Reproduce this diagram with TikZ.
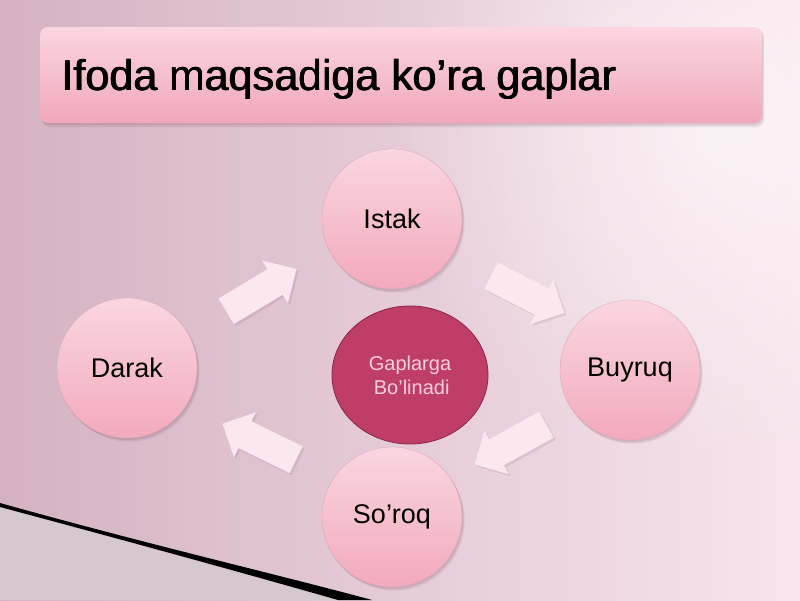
\documentclass[tikz,border=0pt]{standalone}
\usepackage{fontspec}
\setmainfont{Liberation Sans}
\usetikzlibrary{shapes.geometric,shapes.arrows,fadings}
\definecolor{bgL}{RGB}{212,178,195}
\definecolor{bgR}{RGB}{247,228,236}
\definecolor{bgLow}{RGB}{214,200,208}
\definecolor{boxTop}{RGB}{251,214,224}
\definecolor{boxBot}{RGB}{240,168,186}
\definecolor{cirTop}{RGB}{250,214,224}
\definecolor{cirBot}{RGB}{242,170,188}
\definecolor{cirEdge}{RGB}{215,165,182}
\definecolor{cenFill}{RGB}{190,62,104}
\definecolor{cenDraw}{RGB}{140,36,72}
\definecolor{cenText}{RGB}{250,205,222}
\definecolor{arrFill}{RGB}{250,232,238}
\definecolor{shd}{RGB}{110,60,85}
\tikzfading[name=glowfade, inner color=transparent!0, outer color=transparent!100]
\tikzset{
  x=1pt, y=-1pt,
  softshadow/.style={fill=shd, fill opacity=0.12, draw=none},
  topic/.style={circle, minimum size=140pt, inner sep=0pt,
    top color=cirTop, bottom color=cirBot, draw=cirEdge, line width=0.3pt,
    font=\fontsize{27}{30}\selectfont, text=black},
  centre/.style={ellipse, minimum width=156pt, minimum height=138pt, inner sep=0pt,
    fill=cenFill, draw=cenDraw, line width=0.8pt, text=cenText,
    font=\fontsize{20}{24}\selectfont, align=center},
  blockarr/.style={single arrow, draw=none, fill=arrFill, minimum height=82pt,
    minimum width=50pt, single arrow head extend=10pt, single arrow head indent=0pt,
    inner sep=0pt, text height=29pt, text depth=0pt},
  arrshadow/.style={blockarr, fill=shd, fill opacity=0.12},
  titletext/.style={anchor=base west, font=\fontsize{43}{46}\selectfont, text=black},
}
\begin{document}
\begin{tikzpicture}
\useasboundingbox (0,0) rectangle (800,600);
% background
\shade[left color=bgL, right color=bgR] (0,0) rectangle (800,600);
\fill[white, path fading=glowfade, fill opacity=0.6] (720,130) circle (330);
\fill[bgLow] (0,507) -- (338,600) -- (0,600) -- cycle;
\fill[black] (0,503) .. controls (150,545) and (280,575) .. (372,600) -- (338,600) .. controls (240,572) and (120,539) .. (0,507) -- cycle;
% title
\fill[softshadow, rounded corners=8pt] (42,30) rectangle (764,127);
\fill[softshadow, rounded corners=8pt] (41,28) rectangle (763,125);
\node[rounded corners=8pt, minimum width=722pt, minimum height=96pt, inner sep=0pt,
  top color=boxTop, bottom color=boxBot, draw=none] (titlebox) at (401,75) {};
\node[titletext] (titleshadow) at (58.8,90.8) {Ifoda maqsadiga ko’ra gaplar};
\node[titletext] (titlemid) at (58.4,90.4) {Ifoda maqsadiga ko’ra gaplar};
\node[titletext] (title) at (58,90) {Ifoda maqsadiga ko’ra gaplar};
% circle positions
\coordinate (pI) at (392,219);
\coordinate (pD) at (127,368);
\coordinate (pB) at (630,370);
\coordinate (pS) at (392,517);
\foreach \p in {pI,pD,pB,pS}{
  \fill[softshadow] ([shift={(2.5,3.5)}]\p) circle (70);
  \fill[softshadow] ([shift={(1,1.5)}]\p) circle (70.5);
}
% circles
\node[topic] (istak) at (pI) {Istak};
\node[topic] (darak) at (pD) {Darak};
\node[topic] (buyruq) at (pB) {Buyruq};
\node[topic] (soroq) at (pS) {So’roq};
\node[centre] (centre) at (410,375) {Gaplarga\\\,Bo’linadi};
% block arrows
\node[arrshadow, rotate=31] (s1) at (257,296) {};
\node[arrshadow, rotate=-27] (s2) at (523,293) {};
\node[arrshadow, rotate=209] (s3) at (519,443) {};
\node[arrshadow, rotate=154] (s4) at (268,447) {};
\node[blockarr, rotate=31] (a1) at (255,294) {};
\node[blockarr, rotate=-27] (a2) at (521,291) {};
\node[blockarr, rotate=209] (a3) at (517,441) {};
\node[blockarr, rotate=154] (a4) at (266,445) {};
\end{tikzpicture}
\end{document}
